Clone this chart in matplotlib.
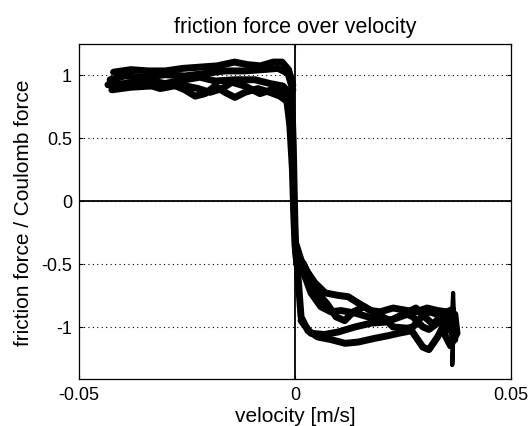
import matplotlib
matplotlib.use('Agg')
import matplotlib.pyplot as plt

plt.rcParams['font.family'] = ['Liberation Sans', 'DejaVu Sans']

# negative velocity side (sticking near +1)
left_x = [
    [-0.042, -0.038, -0.034, -0.030, -0.026, -0.022, -0.018, -0.014, -0.011, -0.008, -0.005, -0.003, -0.0015, -0.0005],
    [-0.0428, -0.0394, -0.0347, -0.0301, -0.0255, -0.0208, -0.0162, -0.0116, -0.0076, -0.0039, -0.0016, -0.0005],
    [-0.0433, -0.0394, -0.0347, -0.0301, -0.0255, -0.0220, -0.0185, -0.0139, -0.0093, -0.0058, -0.0028, -0.0009],
    [-0.0424, -0.0382, -0.0336, -0.0289, -0.0255, -0.0231, -0.0208, -0.0185, -0.0162, -0.0139, -0.0116, -0.0086, -0.0058, -0.0035, -0.0019, -0.0007],
    [-0.0410, -0.0359, -0.0312, -0.0266, -0.0224, -0.0197, -0.0169, -0.0146, -0.0116, -0.0081, -0.0046, -0.0023, -0.0012],
]
left_y = [
    [1.02, 1.04, 1.03, 1.03, 1.05, 1.06, 1.07, 1.10, 1.08, 1.07, 1.10, 1.10, 1.04, 0.92],
    [0.96, 0.99, 0.98, 1.00, 0.99, 1.01, 1.03, 1.03, 1.04, 1.05, 1.01, 0.88],
    [0.92, 0.93, 0.96, 0.93, 0.96, 0.98, 0.95, 0.96, 0.96, 0.93, 0.91, 0.84],
    [0.88, 0.90, 0.91, 0.93, 0.88, 0.83, 0.85, 0.91, 0.86, 0.82, 0.86, 0.89, 0.86, 0.83, 0.79, 0.68],
    [0.89, 0.94, 0.89, 0.92, 0.89, 0.86, 0.89, 0.94, 0.91, 0.85, 0.89, 0.86, 0.76],
]

# transition through zero velocity
drop_x = [
    [-0.0022, -0.0012, -0.0006, -0.0003, 0.0000, 0.0003],
    [-0.0008, -0.0004, -0.0002, 0.0000, 0.0002, 0.0004],
]
drop_y = [
    [0.88, 0.60, 0.25, -0.10, -0.35, -0.45],
    [0.85, 0.45, 0.10, -0.20, -0.40, -0.50],
]

# positive velocity side (sliding near -1)
right_x = [
    [0.0003, 0.0014, 0.003, 0.0046, 0.007, 0.010, 0.0123, 0.0146, 0.0176, 0.0197, 0.0227, 0.026, 0.028, 0.0306, 0.033, 0.035, 0.0366],
    [0.0003, 0.0023, 0.0037, 0.006, 0.0083, 0.0106, 0.0139, 0.0169, 0.0197, 0.0227, 0.026, 0.0273, 0.0296, 0.031, 0.033, 0.034, 0.036],
    [0.0003, 0.0007, 0.0014, 0.003, 0.0053, 0.0083, 0.0116, 0.0146, 0.0185, 0.0215, 0.024, 0.027, 0.0296, 0.031, 0.033, 0.0345, 0.036],
    [0.0014, 0.0037, 0.0068, 0.010, 0.0139, 0.0176, 0.0215, 0.0227, 0.026, 0.0273, 0.029, 0.031, 0.033, 0.035, 0.0368],
    [0.002, 0.004, 0.0075, 0.0095, 0.0115, 0.0135, 0.016, 0.019, 0.022, 0.025, 0.028, 0.030, 0.032, 0.034, 0.0365],
    [0.034, 0.0355, 0.037, 0.0375, 0.036, 0.0345, 0.0355, 0.037],
]
right_y = [
    [-0.35, -0.47, -0.57, -0.65, -0.73, -0.75, -0.76, -0.81, -0.87, -0.88, -0.85, -0.87, -0.88, -0.85, -0.87, -0.88, -0.89],
    [-0.40, -0.60, -0.73, -0.84, -0.88, -0.87, -0.89, -0.92, -0.95, -0.94, -0.90, -0.92, -1.00, -1.02, -0.97, -0.93, -0.95],
    [-0.40, -0.60, -0.92, -1.03, -1.08, -1.10, -1.13, -1.12, -1.09, -1.07, -1.05, -1.03, -1.16, -1.18, -1.08, -0.98, -0.96],
    [-0.95, -1.05, -1.06, -1.04, -1.00, -0.97, -0.96, -1.00, -1.01, -1.00, -0.93, -0.88, -0.90, -0.95, -1.00],
    [-0.50, -0.68, -0.82, -0.92, -0.95, -0.88, -0.84, -0.90, -0.95, -0.90, -0.85, -0.92, -0.98, -0.90, -0.86],
    [-0.88, -0.95, -0.90, -1.05, -1.15, -1.05, -0.98, -1.10],
]

# thin spike at the right end
spike_x = [0.0363, 0.0366, 0.0368, 0.0366, 0.0364, 0.0367]
spike_y = [-0.95, -0.73, -0.90, -1.10, -1.30, -1.00]

x_ticks = [-0.05, 0, 0.05]
x_tick_labels = ['-0.05', '0', '0.05']
y_ticks = [-1, -0.5, 0, 0.5, 1]
y_tick_labels = ['-1', '-0.5', '0', '0.5', '1']

fig = plt.figure(figsize=(5.32, 4.27), dpi=100)
ax = fig.add_axes([0.1485, 0.110, 0.812, 0.7845])

for xs, ys in zip(left_x + drop_x + right_x, left_y + drop_y + right_y):
    ax.plot(xs, ys, color='black', lw=5, solid_joinstyle='round', solid_capstyle='round')
ax.plot(spike_x, spike_y, color='black', lw=3)

ax.axhline(0, color='black', lw=1.3, zorder=1)
ax.axvline(0, color='black', lw=1.3, zorder=1)

ax.set_xlim(-0.05, 0.05)
ax.set_ylim(-1.413, 1.243)
ax.set_xticks(x_ticks)
ax.set_xticklabels(x_tick_labels)
ax.set_yticks(y_ticks)
ax.set_yticklabels(y_tick_labels)
ax.yaxis.grid(True, linestyle=(0, (1, 3)), color='black', lw=0.8)
ax.set_axisbelow(True)
ax.tick_params(direction='in', length=3, labelsize=13, pad=5, top=True, right=True)
for s in ax.spines.values():
    s.set_linewidth(0.9)

ax.set_title('friction force over velocity', fontsize=15.5, pad=9)
ax.set_xlabel('velocity [m/s]', fontsize=15, labelpad=2)
ax.set_ylabel('friction force / Coulomb force', fontsize=15, labelpad=6)

fig.savefig('out.png', dpi=100)
